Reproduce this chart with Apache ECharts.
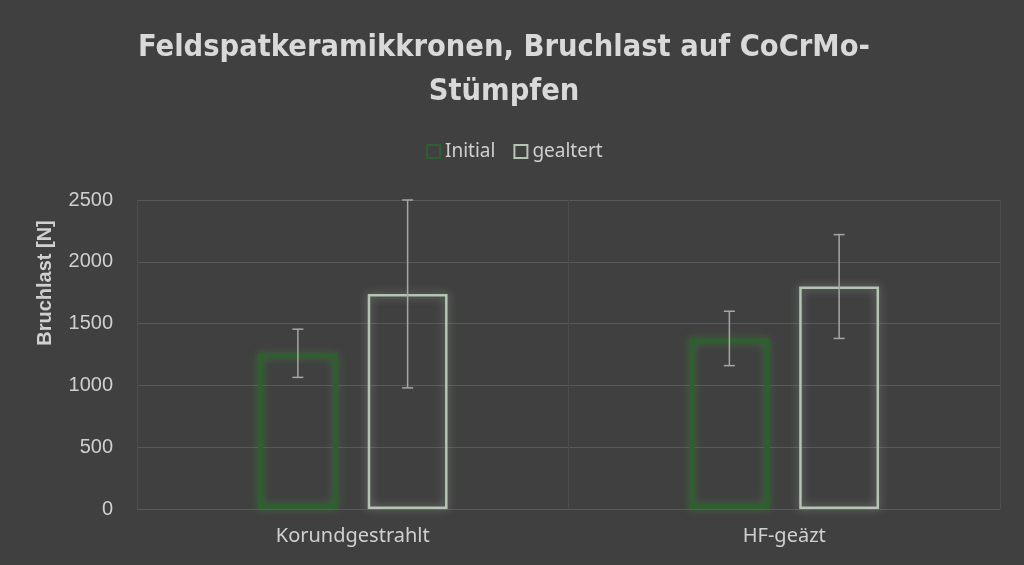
<!DOCTYPE html>
<html><head><meta charset="utf-8">
<script src="https://cdn.jsdelivr.net/npm/echarts@6/dist/echarts.min.js"></script>
<style>html,body{margin:0;padding:0;background:#404040;}#c{width:1024px;height:565px;}</style>
</head><body><div id="c"></div>
<script>
const categories = ['Korundgestrahlt', 'HF-geäzt'];
const seriesNames = ['Initial', 'gealtert'];
const initialValues = [1260, 1380];
const initialErrors = [195, 220];
const agedValues = [1740, 1800];
const agedErrors = [760, 420];
const yTicks = [0, 500, 1000, 1500, 2000, 2500];

const chart = echarts.init(document.getElementById('c'));
const BAR_W = 0.185, GAP = 0.375;

function errSeries(vals, errs, idx, name) {
  return {
    type: 'custom', name: name + ' err', silent: true, z: 5,
    data: vals.map((v, i) => [i, v, errs[i]]),
    renderItem: function (params, api) {
      const band = api.size([1, 0])[0];
      const bw = band * BAR_W;
      const off = (bw + bw * GAP) / 2 * (idx === 0 ? -1 : 1);
      const c = api.coord([api.value(0), api.value(1)]);
      const x = c[0] + off;
      const top = api.coord([api.value(0), Math.min(2500, api.value(1) + api.value(2))])[1];
      const bot = api.coord([api.value(0), api.value(1) - api.value(2)])[1];
      const s = { stroke: '#a6a6a6', lineWidth: 1.5 };
      return { type: 'group', children: [
        { type: 'line', shape: { x1: x, y1: top, x2: x, y2: bot }, style: s },
        { type: 'line', shape: { x1: x - 5.5, y1: top, x2: x + 5.5, y2: top }, style: s },
        { type: 'line', shape: { x1: x - 5.5, y1: bot, x2: x + 5.5, y2: bot }, style: s }
      ]};
    }
  };
}

chart.setOption({
  backgroundColor: '#404040',
  animation: false,
  title: {
    text: 'Feldspatkeramikkronen, Bruchlast auf CoCrMo-\nStümpfen',
    left: 499, top: 21, textAlign: 'center',
    textStyle: { color: '#d9d9d9', fontSize: 30.5, fontWeight: 'bold', fontFamily: 'DejaVu Sans Condensed', lineHeight: 44 }
  },
  legend: {
    data: seriesNames, left: 421, top: 137, itemWidth: 13, itemHeight: 13, itemGap: 18, icon: 'rect',
    textStyle: { color: '#d0d0d0', fontSize: 19, fontFamily: 'Noto Sans' }
  },
  grid: { left: 137, right: 24, top: 200, bottom: 56 },
  xAxis: {
    type: 'category', data: categories,
    axisLine: { show: false }, axisTick: { show: false },
    splitLine: { show: true, lineStyle: { color: '#4d4d4d', width: 1 } },
    axisLabel: { color: '#d0d0d0', fontSize: 20, fontFamily: 'Noto Sans', margin: 17 }
  },
  yAxis: {
    type: 'value', min: 0, max: 2500, interval: 500,
    axisLine: { show: false }, axisTick: { show: false },
    splitLine: { lineStyle: { color: '#595959', width: 1 } },
    axisLabel: { color: '#d0d0d0', fontSize: 20, fontFamily: 'Liberation Sans', margin: 24,
      formatter: v => yTicks.includes(v) ? String(v) : '' }
  },
  graphic: [{
    type: 'text', x: 45, y: 283, rotation: Math.PI / 2,
    style: { text: 'Bruchlast [N]', fill: '#d0d0d0', fontSize: 20, fontWeight: 'bold', fontFamily: 'Liberation Sans', align: 'center', verticalAlign: 'middle' }
  }],
  series: [
    { type: 'bar', name: seriesNames[0], data: initialValues, barWidth: (BAR_W * 100) + '%', barGap: (GAP * 100) + '%',
      itemStyle: { color: 'rgba(0,0,0,0)', borderColor: '#2f5e2f', borderWidth: 5, shadowColor: 'rgba(70,140,70,0.55)', shadowBlur: 8 } },
    { type: 'bar', name: seriesNames[1], data: agedValues, barWidth: (BAR_W * 100) + '%',
      itemStyle: { color: 'rgba(0,0,0,0)', borderColor: '#b6c4b4', borderWidth: 2.5, shadowColor: 'rgba(180,210,180,0.55)', shadowBlur: 8 } },
    errSeries(initialValues, initialErrors, 0, seriesNames[0]),
    errSeries(agedValues, agedErrors, 1, seriesNames[1])
  ]
});
</script></body></html>
